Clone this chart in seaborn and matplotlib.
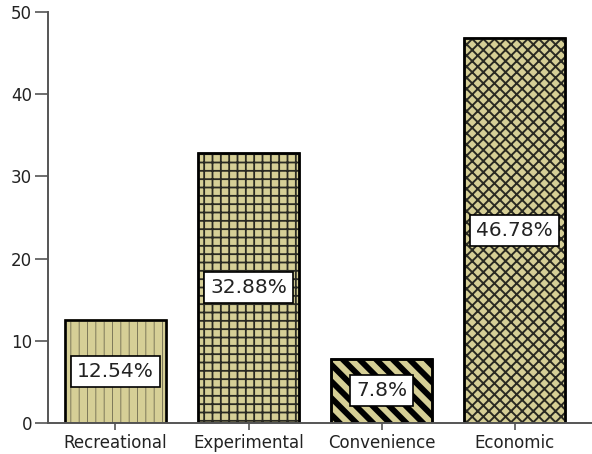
import matplotlib
matplotlib.use("Agg")
import matplotlib.pyplot as plt
import seaborn as sns
import pandas as pd

categories = ["Recreational", "Experimental", "Convenience", "Economic"]
values = [12.54, 32.88, 7.8, 46.78]
value_labels = ["12.54%", "32.88%", "7.8%", "46.78%"]
yticks = [0, 10, 20, 30, 40, 50]

sns.set_style("white")
plt.rcParams['font.family'] = ['DejaVu Sans']
plt.rcParams['hatch.linewidth'] = 1.0

df = pd.DataFrame({"cat": categories, "val": values})

fig = plt.figure(figsize=(5.92, 4.54), dpi=100)
ax = fig.add_axes([48/592, 31/454, 1 - 48/592, (423-12)/454])

sns.barplot(data=df, x="cat", y="val", color="#d6cf96", saturation=1,
            width=0.76, edgecolor="black", linewidth=1.8, ax=ax)

hatches = ["||", "++", "\\\\", "xxx"]
hlw = [0.6, 1.3, 4.2, 1.4]
hcol = ["#6f6a50", "#2a2a22", "black", "#2a2a22"]
for p, h, lw, hc in zip(list(ax.patches), hatches, hlw, hcol):
    # hatch layer
    p.set_edgecolor(hc)
    p.set_hatch(h)
    try:
        p.set_hatch_linewidth(lw)
    except Exception:
        pass
    # black outline on top
    x0, y0 = p.get_xy()
    ax.add_patch(plt.Rectangle((x0, y0), p.get_width(), p.get_height(),
                               fill=False, edgecolor="black", linewidth=1.8, zorder=p.get_zorder() + 0.1))

for i, (v, lab) in enumerate(zip(values, value_labels)):
    ax.text(i, v / 2, lab, ha="center", va="center", fontsize=14.5,
            color="#222222", zorder=5,
            bbox=dict(boxstyle="square,pad=0.3", fc="white", ec="black", lw=1.2))

ax.set_xlim(-0.507, 3.58)
ax.set_ylim(0, 50)
ax.set_yticks(yticks)
ax.set_xlabel("")
ax.set_ylabel("")
for s in ["top", "right"]:
    ax.spines[s].set_visible(False)
for s in ["left", "bottom"]:
    ax.spines[s].set_color("#555555")
    ax.spines[s].set_linewidth(1.4)
ax.tick_params(axis="y", length=9.5, width=1.2, color="#555555", pad=2, labelsize=12, labelcolor="#222222")
ax.tick_params(axis="x", length=5, width=1.2, color="#555555", pad=3, labelsize=12, labelcolor="#222222")
ax.tick_params(left=True, bottom=True)

fig.savefig("out.png", dpi=100)
